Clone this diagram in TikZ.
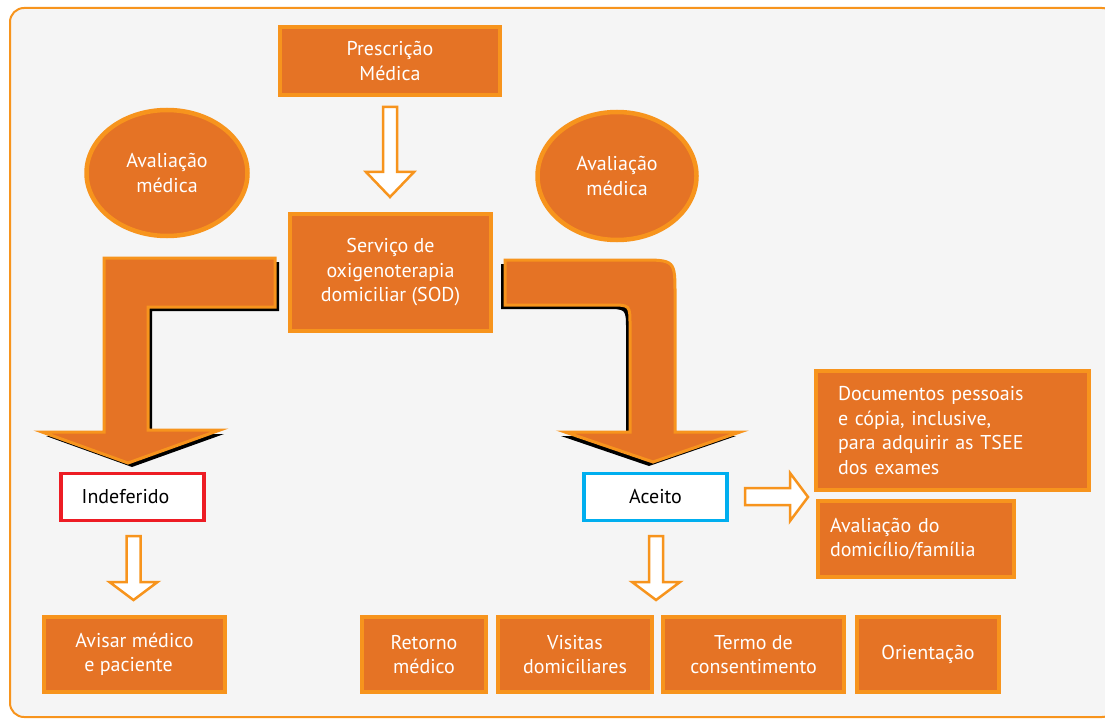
\documentclass[tikz,border=0pt]{standalone}
\usepackage{fontspec}
\setmainfont{PT Sans}
\usetikzlibrary{shapes.geometric}

\definecolor{boxfill}{RGB}{229,115,37}
\definecolor{boxline}{RGB}{247,148,29}
\definecolor{paper}{RGB}{245,245,245}
\definecolor{refused}{RGB}{237,28,36}
\definecolor{accepted}{RGB}{0,174,239}

\newcommand{\flowfont}{\fontsize{20}{24.5}\selectfont}
% hollow arrow pointing down: x, top, neck, tip
\newcommand{\hollowdown}[4]{%
  \draw[hollow] (#1-7,#2) -- (#1-7,#3) -- (#1-24,#3) -- (#1,#4) -- (#1+24,#3) -- (#1+7,#3) -- (#1+7,#2) -- cycle;}

\tikzset{
  stepbox/.style={rectangle, fill=boxfill, draw=boxline, line width=4.5pt,
    text=white, align=center, font=\flowfont, inner sep=0pt},
  evalblob/.style={ellipse, fill=boxfill, draw=boxline, line width=4.5pt,
    text=white, align=center, font=\flowfont, inner sep=0pt},
  outcome/.style={rectangle, fill=white, line width=3.5pt, text=black,
    font=\flowfont, inner sep=0pt},
  hollow/.style={draw=boxline, fill=white, line width=2.5pt, line join=miter},
  bigarrow/.style={fill=boxfill, draw=boxline, line width=3pt, line join=miter},
  dropshade/.style={fill=black}
}

\begin{document}
\begin{tikzpicture}[x=1pt,y=-1pt]
  \useasboundingbox (0,0) rectangle (1105,722);
  \draw[boxline, line width=2pt, fill=paper, rounded corners=14pt] (10,8) rectangle (1116,717);

  % boxes on top
  \node[stepbox, minimum width=220, minimum height=68] (presc) at (390,61) {Prescrição\\Médica};
  \node[stepbox, minimum width=201, minimum height=117] (sod) at (390.5,272.5)
    {Serviço de\\oxigenoterapia\\domiciliar (SOD)};
  \node[evalblob, minimum width=161, minimum height=126] (evalleft) at (167,173) {Avaliação\\médica};
  \node[evalblob, minimum width=159, minimum height=128] (evalright) at (617,176) {Avaliação\\médica};

  % outcomes
  \node[outcome, draw=refused, minimum width=143, minimum height=47] (refused) at (132.5,497) {Indeferido\hspace*{14pt}};
  \node[outcome, draw=accepted, minimum width=143, minimum height=47] (accepted) at (655.5,497) {Aceito};

  % bent arrows with drop shade
  \fill[dropshade, shift={(4,4)}] (275,258) -- (104,258) -- (104,432) -- (42,432) -- (128,463)
    -- (220,430) -- (148,430) -- (148,307) -- (275,307) -- cycle;
  \draw[bigarrow] (275,258) -- (104,258) -- (104,432) -- (42,432) -- (128,463)
    -- (220,430) -- (148,430) -- (148,307) -- (275,307) -- cycle;
  \fill[dropshade, shift={(-4,4)}] (505,260) -- (640,260) .. controls (675,260) .. (675,295)
    -- (675,432) -- (740,432) -- (653,462) -- (565,432) -- (630,432) -- (630,325)
    .. controls (630,305) .. (610,305) -- (505,305) -- cycle;
  \draw[bigarrow] (505,260) -- (640,260) .. controls (675,260) .. (675,295)
    -- (675,432) -- (740,432) -- (653,462) -- (565,432) -- (630,432) -- (630,325)
    .. controls (630,305) .. (610,305) -- (505,305) -- cycle;

  % hollow arrows
  \hollowdown{390}{107}{172}{197}
  \hollowdown{133.5}{536}{582}{600}
  \hollowdown{656}{536}{582}{600}
  \draw[hollow] (745,488) -- (790,488) -- (790,473) -- (808,497) -- (790,521) -- (790,505)
    -- (745,505) -- cycle;

  % right column
  \node[stepbox, align=left, text width=229, inner xsep=22, minimum height=119] (docs)
    at (952.5,430.5) {Documentos pessoais\\e cópia, inclusive,\\para adquirir as TSEE\\dos exames};
  \node[stepbox, align=left, text width=172, inner xsep=12, minimum height=76] (home)
    at (916,539) {Avaliação do\\domicílio/família};

  % bottom row
  \node[stepbox, minimum width=181, minimum height=75] (notify) at (134.5,654.5) {Avisar médico\\e paciente\hspace*{12pt}};
  \node[stepbox, minimum width=124, minimum height=75] (return) at (424,654.5) {Retorno\\médico};
  \node[stepbox, minimum width=154, minimum height=75] (visits) at (575,654.5) {Visitas\\domiciliares};
  \node[stepbox, minimum width=181, minimum height=75] (consent) at (753.5,654.5) {Termo de\\consentimento};
  \node[stepbox, minimum width=142, minimum height=75] (guide) at (928,654.5) {Orientação};
\end{tikzpicture}
\end{document}
